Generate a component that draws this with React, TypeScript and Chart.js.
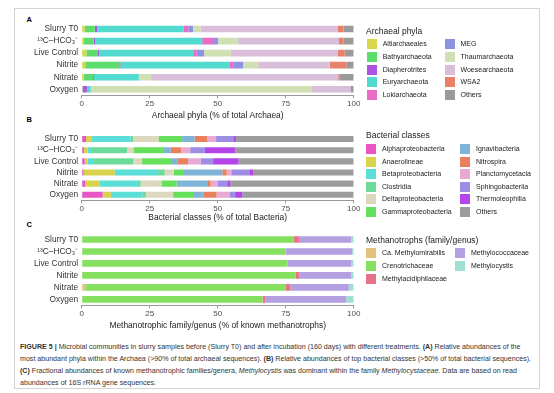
import React, { useEffect, useRef } from "react";
import { Chart, registerables } from "chart.js";

Chart.register(...registerables);

const FONT = '"Liberation Sans", Arial, Helvetica, sans-serif';

// ---------- shared ----------
const samples = ["Slurry T0", "¹³C–HCO₃⁻", "Live Control", "Nitrite", "Nitrate", "Oxygen"];
const xTicks = [0, 25, 50, 75, 100];

// ---------- Panel A: Archaeal phyla ----------
const archaeaNames = [
  "Altiarchaeales", "Bathyarchaeota", "Diapherotrites", "Euryarchaeota", "Lokiarchaeota",
  "MEG", "Thaumarchaeota", "Woesearchaeota", "WSA2", "Others",
];
const archaeaColors = [
  "#D8D64A", "#5DDC6E", "#AE52E2", "#52D9D0", "#E86CC6",
  "#8C93E2", "#D1E0B2", "#D8BED8", "#E8806A", "#9A9A9A",
];
const altiarchaeales = [1.1, 0.7, 1.7, 1.3, 0.7, 0.3];
const bathyarchaeota = [3.7, 3.7, 4.3, 12.9, 3.5, 0];
const diapherotrites = [0.9, 0.6, 0.4, 0.3, 0.3, 1.6];
const euryarchaeota = [31.7, 39.3, 34.6, 40.0, 16.5, 1.4];
const lokiarchaeota = [1.8, 4.0, 1.3, 1.2, 0, 0];
const meg = [1.7, 1.8, 2.7, 3.6, 0, 0];
const thaumarchaeota = [2.8, 7.4, 9.8, 5.6, 4.5, 81.4];
const woesearchaeota = [50.5, 37.1, 39.4, 26.3, 68.8, 14.3];
const wsa2 = [2.1, 1.7, 2.5, 6.2, 0.6, 0];
const archaeaOthers = [3.7, 3.7, 3.3, 2.6, 5.1, 1.0];

// ---------- Panel B: Bacterial classes ----------
const bacteriaNames = [
  "Alphaproteobacteria", "Anaerolineae", "Betaproteobacteria", "Clostridia",
  "Deltaproteobacteria", "Gammaproteobacteria", "Ignavibacteria", "Nitrospira",
  "Planctomycetacia", "Sphingobacteriia", "Thermoleophilia", "Others",
];
const bacteriaColors = [
  "#E856C6", "#D9D24C", "#5BDDD8", "#6CDB9A",
  "#DDD7BE", "#64E05A", "#7FB3D8", "#E8805E",
  "#E8A9D2", "#9D8DE4", "#B545E8", "#9C9C9C",
];
const alphaproteobacteria = [1.6, 0.8, 1.1, 0.7, 1.3, 7.7];
const anaerolineae = [2.2, 1.3, 1.1, 11.4, 5.2, 3.0];
const betaproteobacteria = [14.2, 1.7, 2.3, 16.0, 13.9, 11.6];
const clostridia = [0.9, 12.9, 14.5, 2.4, 1.3, 1.3];
const deltaproteobacteria = [9.3, 2.3, 3.2, 3.4, 7.6, 10.0];
const gammaproteobacteria = [8.7, 10.9, 11.0, 3.7, 5.6, 7.7];
const ignavibacteria = [4.6, 2.8, 1.9, 14.1, 11.2, 3.4];
const nitrospira = [4.7, 3.9, 4.0, 1.6, 1.3, 4.9];
const planctomycetacia = [3.2, 3.3, 4.6, 1.7, 2.7, 4.9];
const sphingobacteriia = [6.3, 5.4, 4.6, 6.6, 3.4, 1.9];
const thermoleophilia = [1.0, 11.2, 9.4, 1.6, 1.1, 2.6];
const bacteriaOthers = [43.3, 43.5, 42.3, 36.8, 45.4, 41.0];

// ---------- Panel C: Methanotrophs ----------
const methNames = [
  "Ca. Methylomirabilis", "Crenotrichaceae", "Methylacidiphilaceae", "Methylococcaceae", "Methylocystis",
];
const methColors = ["#E2C27C", "#86E060", "#E8728A", "#B49FE0", "#9FE0D4"];
const methylomirabilis = [0, 0, 0, 0, 1.6, 0];
const crenotrichaceae = [77.9, 74.9, 75.6, 78.7, 73.5, 66.5];
const methylacidiphilaceae = [2.0, 0, 0, 1.4, 1.6, 1.1];
const methylococcaceae = [19.2, 24.5, 23.4, 18.9, 21.5, 29.7];
const methylocystis = [0.9, 0.6, 1.0, 1.0, 1.8, 2.7];

type PanelProps = {
  top: number;
  height: number;
  firstCenter: number;
  titleY: number;
  title: string;
  names: string[];
  colors: string[];
  series: number[][];
};

const CANVAS_W = 370;
const PLOT_LEFT = 81.7;
const PLOT_RIGHT = 353.7;
const PITCH = 12.06;
const TITLE_SIZE = 8.4;

function Panel({ top, height, firstCenter, titleY, title, names, colors, series }: PanelProps) {
  const ref = useRef<HTMLCanvasElement>(null);
  useEffect(() => {
    if (!ref.current) return;
    const areaH = PITCH * samples.length;
    const chartTop = firstCenter - PITCH / 2 - top;
    const xH = titleY + TITLE_SIZE * 0.6 - (top + chartTop + areaH);
    const bottomPad = Math.max(0, height - chartTop - areaH - xH);
    const chart = new Chart(ref.current, {
      type: "bar",
      data: {
        labels: samples,
        datasets: names.map((n, i) => ({
          label: n,
          data: series[i],
          backgroundColor: colors[i],
          borderWidth: 0,
          barPercentage: 0.55,
          categoryPercentage: 1,
        })),
      },
      options: {
        indexAxis: "y",
        responsive: false,
        maintainAspectRatio: false,
        animation: false,
        devicePixelRatio: 1,
        layout: { padding: { top: chartTop, left: 0, right: CANVAS_W - PLOT_RIGHT, bottom: bottomPad } },
        plugins: { legend: { display: false }, tooltip: { enabled: false } },
        scales: {
          x: {
            stacked: true,
            min: 0,
            max: 100,
            afterBuildTicks: (s: any) => {
              s.ticks = xTicks.map((v) => ({ value: v }));
            },
            afterFit: (s: any) => {
              s.height = xH;
            },
            ticks: {
              font: { size: 8, family: FONT },
              color: "#4d4d4d",
              padding: 0.8,
              maxRotation: 0,
              autoSkip: false,
            },
            grid: { drawOnChartArea: false, drawTicks: true, tickLength: 3, color: "#9a9a9a", lineWidth: 1 },
            border: { display: true, color: "#9a9a9a", width: 1 },
            title: {
              display: true,
              text: title,
              font: { size: TITLE_SIZE, family: FONT },
              color: "#1a1a1a",
              padding: 0,
            },
          },
          y: {
            stacked: true,
            offset: true,
            afterFit: (s: any) => {
              s.width = PLOT_LEFT;
            },
            ticks: { font: { size: 8.3, family: FONT }, color: "#333333", padding: 3.5, autoSkip: false },
            grid: { display: false, drawTicks: false },
            border: { display: false },
          },
        },
      },
    } as any);
    return () => chart.destroy();
  }, []);
  return (
    <canvas
      ref={ref}
      width={CANVAS_W}
      height={height}
      style={{ position: "absolute", left: 0, top, width: CANVAS_W, height }}
    />
  );
}

type LegendProps = {
  title: string;
  names: string[];
  colors: string[];
  titleY: number;
  firstY: number;
  pitch: number;
  perCol: number;
  colX: number[];
};

function Legend({ title, names, colors, titleY, firstY, pitch, perCol, colX }: LegendProps) {
  return (
    <>
      <div
        style={{
          position: "absolute",
          left: 366,
          top: titleY - 6,
          fontSize: 8.5,
          lineHeight: "12px",
          color: "#1a1a1a",
          whiteSpace: "nowrap",
        }}
      >
        {title}
      </div>
      {names.map((n, i) => {
        const c = Math.floor(i / perCol);
        const r = i % perCol;
        const cy = firstY + r * pitch;
        return (
          <React.Fragment key={n}>
            <div
              style={{
                position: "absolute",
                left: colX[c],
                top: cy - 5,
                width: 10,
                height: 10,
                background: colors[i],
              }}
            />
            <div
              style={{
                position: "absolute",
                left: colX[c] + 16,
                top: cy - 6,
                fontSize: 7,
                lineHeight: "12px",
                color: "#1a1a1a",
                whiteSpace: "nowrap",
              }}
            >
              {n}
            </div>
          </React.Fragment>
        );
      })}
    </>
  );
}

const letterStyle: React.CSSProperties = {
  position: "absolute",
  left: 26.5,
  fontSize: 7.5,
  fontWeight: "bold",
  lineHeight: "10px",
  color: "#000",
};

export default function App() {
  return (
    <div
      style={{
        position: "fixed",
        left: 0,
        top: 0,
        width: 554,
        height: 393,
        background: "#fff",
        overflow: "hidden",
        fontFamily: FONT,
      }}
    >
      <div
        style={{
          position: "absolute",
          left: 14,
          top: 8,
          width: 526,
          height: 381,
          border: "1px solid #d4d4d4",
          boxSizing: "border-box",
        }}
      />
      <div style={{ ...letterStyle, top: 15 }}>A</div>
      <div style={{ ...letterStyle, top: 115 }}>B</div>
      <div style={{ ...letterStyle, top: 220 }}>C</div>

      <Panel
        top={0}
        height={125}
        firstCenter={29}
        titleY={115.8}
        title="Archaeal phyla (% of total Archaea)"
        names={archaeaNames}
        colors={archaeaColors}
        series={[
          altiarchaeales, bathyarchaeota, diapherotrites, euryarchaeota, lokiarchaeota,
          meg, thaumarchaeota, woesearchaeota, wsa2, archaeaOthers,
        ]}
      />
      <Panel
        top={125}
        height={100}
        firstCenter={134}
        titleY={217.8}
        title="Bacterial classes (% of total Bacteria)"
        names={bacteriaNames}
        colors={bacteriaColors}
        series={[
          alphaproteobacteria, anaerolineae, betaproteobacteria, clostridia,
          deltaproteobacteria, gammaproteobacteria, ignavibacteria, nitrospira,
          planctomycetacia, sphingobacteriia, thermoleophilia, bacteriaOthers,
        ]}
      />
      <Panel
        top={225}
        height={110}
        firstCenter={239}
        titleY={326}
        title="Methanotrophic family/genus (% of known methanotrophs)"
        names={methNames}
        colors={methColors}
        series={[methylomirabilis, crenotrichaceae, methylacidiphilaceae, methylococcaceae, methylocystis]}
      />

      <Legend
        title="Archaeal phyla"
        names={archaeaNames}
        colors={archaeaColors}
        titleY={31}
        firstY={44.3}
        pitch={12.7}
        perCol={5}
        colX={[366.7, 444.5]}
      />
      <Legend
        title="Bacterial classes"
        names={bacteriaNames}
        colors={bacteriaColors}
        titleY={135}
        firstY={149.3}
        pitch={12.5}
        perCol={6}
        colX={[366, 460]}
      />
      <Legend
        title="Methanotrophs (family/genus)"
        names={methNames}
        colors={methColors}
        titleY={240}
        firstY={253.3}
        pitch={12.9}
        perCol={3}
        colX={[366, 455]}
      />

      <div
        style={{
          position: "absolute",
          left: 20,
          top: 341,
          fontSize: 7.1,
          lineHeight: "12px",
          color: "#333",
          whiteSpace: "nowrap",
        }}
      >
        <b>FIGURE 5 |</b> Microbial communities in slurry samples before (Slurry T0) and after incubation (160 days) with
        different treatments. <b>(A)</b> Relative abundances of the
        <br />
        most abundant phyla within the Archaea (&gt;90% of total archaeal sequences). <b>(B)</b> Relative abundances of top
        bacterial classes (&gt;50% of total bacterial sequences).
        <br />
        <b>(C)</b> Fractional abundances of known methanotrophic families/genera, <i>Methylocystis</i> was dominant within the
        family <i>Methylocystaceae</i>. Data are based on read
        <br />
        abundances of 16S rRNA gene sequences.
      </div>
    </div>
  );
}
